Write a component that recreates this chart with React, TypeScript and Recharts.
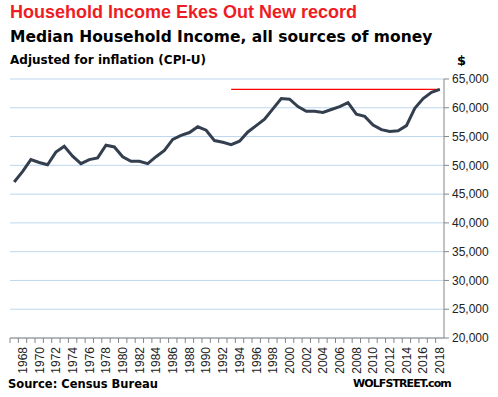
import React from "react";
import {
  LineChart,
  Line,
  XAxis,
  YAxis,
  CartesianGrid,
  ReferenceLine,
} from "recharts";

const years = [
  "1967", "1968", "1969", "1970", "1971", "1972", "1973", "1974", "1975",
  "1976", "1977", "1978", "1979", "1980", "1981", "1982", "1983", "1984",
  "1985", "1986", "1987", "1988", "1989", "1990", "1991", "1992", "1993",
  "1994", "1995", "1996", "1997", "1998", "1999", "2000", "2001", "2002",
  "2003", "2004", "2005", "2006", "2007", "2008", "2009", "2010", "2011",
  "2012", "2013", "2014", "2015", "2016", "2017", "2018",
];

const income = [
  47100, 48900, 51000, 50500, 50100, 52300, 53300, 51600, 50300,
  51000, 51300, 53500, 53200, 51500, 50700, 50700, 50300, 51500,
  52600, 54500, 55200, 55700, 56700, 56100, 54300, 54000, 53600,
  54200, 55800, 56900, 58000, 59800, 61600, 61500, 60200, 59400,
  59400, 59200, 59700, 60200, 60900, 58900, 58500, 57000, 56200,
  55900, 56000, 56900, 59900, 61600, 62700, 63200,
];

const yTicks = [20000, 25000, 30000, 35000, 40000, 45000, 50000, 55000, 60000, 65000];

// previous record line, drawn from the early 90s to the latest year
const RECORD = 63200;
const RECORD_FROM = "1993";

const data = years.map((year, i) => ({ year, income: income[i] }));

const W = 498;
const H = 397;
const M = { top: 79, right: 0, left: 10, bottom: 0 };
const Y_AXIS_W = 54;
const PLOT_BOTTOM = 338;

const tahoma = '"DejaVu Sans", Verdana, sans-serif';
const labelFont = '"Liberation Sans", Arial, sans-serif';

const step = (W - M.left - M.right - Y_AXIS_W) / years.length;

// Excel style: tick marks between categories, label every other year
const YearTick = (props: any) => {
  const { x, y, index, payload } = props;
  const showLabel = index % 2 === 1;
  return (
    <g>
      <line x1={x - step / 2} x2={x - step / 2} y1={y} y2={y + 5} stroke="#868686" />
      {showLabel && (
        <text
          x={x}
          y={y + 9}
          transform={`rotate(-90, ${x}, ${y + 9})`}
          textAnchor="end"
          dy="0.36em"
          fontSize={12}
          fontFamily={labelFont}
          fill="#222"
        >
          {payload.value}
        </text>
      )}
    </g>
  );
};

const fmt = (v: number) => v.toLocaleString("en-US");

const boldText = (
  left: number,
  top: number,
  size: number,
  extra: React.CSSProperties = {}
): React.CSSProperties => ({
  position: "absolute",
  left,
  top,
  fontFamily: tahoma,
  fontWeight: "bold",
  fontSize: size,
  color: "#000",
  whiteSpace: "nowrap",
  ...extra,
});

export default function App() {
  return (
    <div
      style={{
        position: "absolute",
        left: 0,
        top: 0,
        width: W,
        height: H,
        background: "#fff",
        overflow: "hidden",
      }}
    >
      <div style={boldText(10, 2, 18, { fontFamily: labelFont, color: "#EE1C25" })}>
        Household Income Ekes Out New record
      </div>
      <div style={boldText(10, 28, 15.5)}>
        Median Household Income, all sources of money
      </div>
      <div style={boldText(10, 53, 12)}>Adjusted for inflation (CPI-U)</div>
      <div style={boldText(457, 53, 13)}>$</div>

      <div style={{ position: "absolute", left: 0, top: 0 }}>
        <LineChart width={W} height={H} data={data} margin={M}>
          <CartesianGrid horizontal vertical={false} stroke="#BDD7EE" strokeWidth={1} />
          <XAxis
            dataKey="year"
            scale="band"
            interval={0}
            height={H - PLOT_BOTTOM - M.bottom}
            axisLine={{ stroke: "#868686" }}
            tickLine={false}
            tickSize={0}
            tickMargin={0}
            tick={<YearTick />}
          />
          <YAxis
            orientation="right"
            domain={[20000, 65000]}
            ticks={yTicks}
            width={Y_AXIS_W}
            axisLine={{ stroke: "#868686" }}
            tickLine={{ stroke: "#868686" }}
            tickSize={5}
            tickMargin={3}
            tickFormatter={fmt}
            tick={{ fontSize: 12, fontFamily: labelFont, fill: "#222" }}
          />
          <ReferenceLine
            segment={[
              { x: RECORD_FROM, y: RECORD },
              { x: years[years.length - 1], y: RECORD },
            ]}
            stroke="#FF0000"
            strokeWidth={1.3}
          />
          <Line
            type="linear"
            dataKey="income"
            stroke="#333F4F"
            strokeWidth={3}
            dot={false}
            isAnimationActive={false}
          />
        </LineChart>
      </div>

      <div style={boldText(8, 377, 11.5)}>Source: Census Bureau</div>
      <div style={boldText(353, 377, 11, { letterSpacing: -0.9 })}>WOLFSTREET.com</div>
    </div>
  );
}
